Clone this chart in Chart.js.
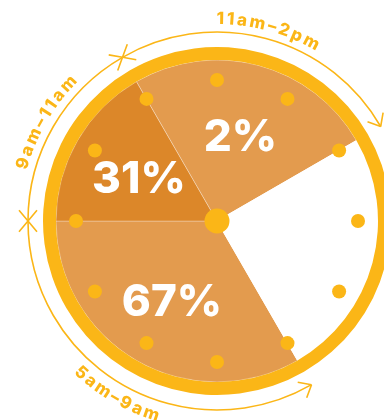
<!DOCTYPE html>
<html>
<head>
<meta charset="utf-8">
<script src="https://cdn.jsdelivr.net/npm/chart.js@4"></script>
<style>
  html, body { margin: 0; padding: 0; background: #fff; overflow: hidden; }
  #wrap { position: absolute; left: 0; top: 0; width: 434px; height: 442px; }
</style>
</head>
<body>
<div id="wrap"><canvas id="clockChart" width="434" height="442"></canvas></div>
<script>
// time windows on the clock face, hours each one covers, and its share
const windows = ["5am–9am", "9am–11am", "11am–2pm", "2pm–5am"];
const hours = [4, 2, 3, 3];
const shares = [67, 31, 2];
const rimHours = [12];

const yellow = "#FBB617";
const light = "#E39B4E";
const dark = "#DC8729";

// clock dots, percentages and the curved arrows round the rim
const clockFace = {
  id: "clockFace",
  afterDatasetsDraw(chart) {
    const ctx = chart.ctx;
    const rim = chart.getDatasetMeta(0).data[0];
    const slices = chart.getDatasetMeta(1).data;
    const cx = rim.x, cy = rim.y;
    const faceR = rim.innerRadius;

    ctx.save();
    ctx.fillStyle = yellow;
    for (let h = 0; h < 12; h++) {
      const a = h * Math.PI / 6 - Math.PI / 2;
      ctx.beginPath();
      ctx.arc(cx + Math.cos(a) * (faceR - 20), cy + Math.sin(a) * (faceR - 20), 7, 0, Math.PI * 2);
      ctx.fill();
    }
    ctx.beginPath();
    ctx.arc(cx, cy, 12.5, 0, Math.PI * 2);
    ctx.fill();

    // percentages
    ctx.fillStyle = "#fff";
    ctx.font = "800 44px Inter";
    ctx.textAlign = "center";
    ctx.textBaseline = "alphabetic";
    shares.forEach((s, i) => {
      const el = slices[i];
      const mid = (el.startAngle + el.endAngle) / 2;
      const r = faceR * 0.56;
      ctx.fillText(s + "%", cx + Math.cos(mid) * r, cy + Math.sin(mid) * r + 17);
    });

    // arrows
    const R = rim.outerRadius + 15;
    ctx.strokeStyle = yellow;
    ctx.lineWidth = 1.6;
    const head = (px, py, dx, dy) => {
      const L = 14, t = 40 * Math.PI / 180;
      ctx.beginPath();
      for (const s of [-1, 1]) {
        const c = Math.cos(t * s), sn = Math.sin(t * s);
        const bx = -(dx * c - dy * sn), by = -(dx * sn + dy * c);
        ctx.moveTo(px, py);
        ctx.lineTo(px + bx * L, py + by * L);
      }
      ctx.stroke();
    };
    for (let i = 0; i < 3; i++) {
      const a = slices[i].startAngle, b = slices[i].endAngle;
      ctx.beginPath();
      ctx.arc(cx, cy, R, a, b);
      ctx.stroke();
      head(cx + Math.cos(b) * R, cy + Math.sin(b) * R, -Math.sin(b), Math.cos(b));
      head(cx + Math.cos(a) * R, cy + Math.sin(a) * R, Math.sin(a), -Math.cos(a));
    }

    // curved window names
    ctx.fillStyle = yellow;
    ctx.font = "800 17px Inter";
    ctx.textAlign = "center";
    const gap = 2.5;
    for (let i = 0; i < 3; i++) {
      const text = windows[i];
      const mid = (slices[i].startAngle + slices[i].endAngle) / 2;
      let clock = (mid + Math.PI / 2) % (Math.PI * 2);
      if (clock < 0) clock += Math.PI * 2;
      const inward = clock > Math.PI / 2 && clock < Math.PI * 1.5;
      const rr = inward ? R + 20 : R + 8;
      const ws = [...text].map(ch => ctx.measureText(ch).width);
      const total = (ws.reduce((p, w) => p + w, 0) + gap * (ws.length - 1)) / rr;
      let ang = inward ? mid + total / 2 : mid - total / 2;
      [...text].forEach((ch, k) => {
        const w = ws[k] / rr;
        const c = inward ? ang - w / 2 : ang + w / 2;
        ctx.save();
        ctx.translate(cx, cy);
        if (inward) {
          ctx.rotate(c - Math.PI / 2);
          ctx.fillText(ch, 0, rr);
        } else {
          ctx.rotate(c + Math.PI / 2);
          ctx.fillText(ch, 0, -rr);
        }
        ctx.restore();
        const step = (ws[k] + gap) / rr;
        ang += inward ? -step : step;
      });
    }
    ctx.restore();
  }
};

new Chart(document.getElementById("clockChart"), {
  type: "pie",
  data: {
    labels: windows,
    datasets: [
      {
        data: rimHours,
        backgroundColor: [yellow],
        borderWidth: 0,
        weight: 13
      },
      {
        data: hours,
        backgroundColor: [light, dark, light, "#ffffff"],
        borderColor: ["rgba(255,255,255,0.3)", "rgba(255,255,255,0.3)", "rgba(255,255,255,0.3)", "#ffffff"],
        borderWidth: 1,
        weight: 161
      }
    ]
  },
  options: {
    responsive: false,
    animation: false,
    events: [],
    rotation: 150,
    layout: { padding: { left: 43, right: 43, top: 47, bottom: 47 } },
    plugins: {
      legend: { display: false },
      tooltip: { enabled: false }
    }
  },
  plugins: [clockFace]
});
</script>
</body>
</html>
